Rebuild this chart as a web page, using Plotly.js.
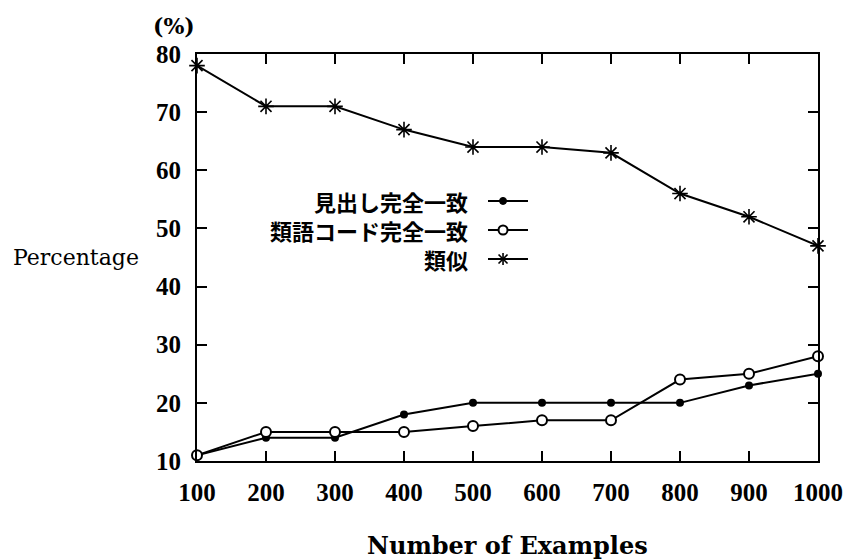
<!DOCTYPE html>
<html><head><meta charset="utf-8">
<script src="https://cdn.plot.ly/plotly-3.0.1.min.js"></script>
<style>html,body{margin:0;padding:0;background:#fff}</style>
</head><body>
<div id="chart" style="width:844px;height:560px"></div>
<script>
const examples = [100, 200, 300, 400, 500, 600, 700, 800, 900, 1000];
const midashiExact = [11, 14, 14, 18, 20, 20, 20, 20, 23, 25];
const codeExact = [11, 15, 15, 15, 16, 17, 17, 24, 25, 28];
const similar = [78, 71, 71, 67, 64, 64, 63, 56, 52, 47];
const seriesNames = ['見出し完全一致', '類語コード完全一致', '類似'];
const xTicks = [100, 200, 300, 400, 500, 600, 700, 800, 900, 1000];
const yTicks = [10, 20, 30, 40, 50, 60, 70, 80];

const line = {color: '#000', width: 2};
const traces = [
  {x: examples, y: midashiExact, name: seriesNames[0], mode: 'lines+markers', line: line,
   marker: {symbol: 'circle', size: 8, color: '#000'}, cliponaxis: false},
  {x: examples, y: codeExact, name: seriesNames[1], mode: 'lines+markers', line: line,
   marker: {symbol: 'circle', size: 10, color: '#fff', line: {color: '#000', width: 2}}, cliponaxis: false},
  {x: examples, y: similar, name: seriesNames[2], mode: 'lines+markers', line: line,
   marker: {symbol: 'asterisk-open', size: 13, color: '#000', line: {color: '#000', width: 1.6}}, cliponaxis: false}
];

const tickFont = {family: 'Liberation Serif', size: 25, color: '#000', weight: 'bold'};
const cjkFont = {family: 'Noto Sans CJK JP', size: 22, color: '#000', weight: 'bold'};

// legend (text right-aligned, sample to the right)
const rowsY = [0.639, 0.5676, 0.4963];
const annotations = [];
const shapes = [];
const textX = 0.4396, l0 = 0.4686, l1 = 0.533, mx = 0.4928;
rowsY.forEach((yy, i) => {
  annotations.push({xref: 'paper', yref: 'paper', x: textX, y: yy, xanchor: 'right', yanchor: 'middle',
    text: seriesNames[i], showarrow: false, font: cjkFont});
  shapes.push({type: 'line', xref: 'paper', yref: 'paper', x0: l0, x1: l1, y0: yy, y1: yy, line: {color: '#000', width: 2}});
});
shapes.push({type: 'circle', xref: 'paper', yref: 'paper', xsizemode: 'pixel', ysizemode: 'pixel',
  xanchor: mx, yanchor: rowsY[0], x0: -3.5, x1: 3.5, y0: -3.5, y1: 3.5, fillcolor: '#000', line: {color: '#000', width: 1}});
shapes.push({type: 'circle', xref: 'paper', yref: 'paper', xsizemode: 'pixel', ysizemode: 'pixel',
  xanchor: mx, yanchor: rowsY[1], x0: -4.5, x1: 4.5, y0: -4.5, y1: 4.5, fillcolor: '#fff', line: {color: '#000', width: 2}});
[[-6, 0, 6, 0], [0, -6, 0, 6], [-4.5, -4.5, 4.5, 4.5], [-4.5, 4.5, 4.5, -4.5]].forEach(s => {
  shapes.push({type: 'line', xref: 'paper', yref: 'paper', xsizemode: 'pixel', ysizemode: 'pixel',
    xanchor: mx, yanchor: rowsY[2], x0: s[0], y0: s[1], x1: s[2], y1: s[3], line: {color: '#000', width: 1.6}});
});

annotations.push({xref: 'paper', yref: 'paper', x: -0.037, y: 1.07, xanchor: 'center', yanchor: 'middle',
  text: '(%)', showarrow: false, font: {family: 'DejaVu Serif', size: 22, color: '#000', weight: 'bold'}});
annotations.push({xref: 'paper', yref: 'paper', x: -0.195, y: 0.501, xanchor: 'center', yanchor: 'middle',
  text: 'Percentage', showarrow: false, font: {family: 'DejaVu Serif', size: 22, color: '#000'}});
annotations.push({xref: 'paper', yref: 'paper', x: 0.5, y: -0.207, xanchor: 'center', yanchor: 'middle',
  text: 'Number of Examples', showarrow: false, font: {family: 'DejaVu Serif', size: 24, color: '#000', weight: 'bold'}});

const layout = {
  width: 844, height: 560,
  margin: {l: 197, r: 26, t: 54, b: 99},
  paper_bgcolor: '#fff', plot_bgcolor: '#fff',
  showlegend: false,
  xaxis: {range: [100, 1000], tickvals: xTicks, ticktext: xTicks.map(String), showgrid: false, zeroline: false,
    showline: true, linecolor: '#000', linewidth: 2, mirror: 'ticks', ticks: 'inside', ticklen: 10,
    tickwidth: 2, tickcolor: '#000', tickfont: tickFont, ticklabelstandoff: 8},
  yaxis: {range: [10, 80], tickvals: yTicks, ticktext: yTicks.map(String), showgrid: false, zeroline: false,
    showline: true, linecolor: '#000', linewidth: 2, mirror: 'ticks', ticks: 'inside', ticklen: 10,
    tickwidth: 2, tickcolor: '#000', tickfont: tickFont, ticklabelstandoff: 9},
  annotations: annotations,
  shapes: shapes
};
Plotly.newPlot('chart', traces, layout, {staticPlot: true});
</script>
</body></html>
